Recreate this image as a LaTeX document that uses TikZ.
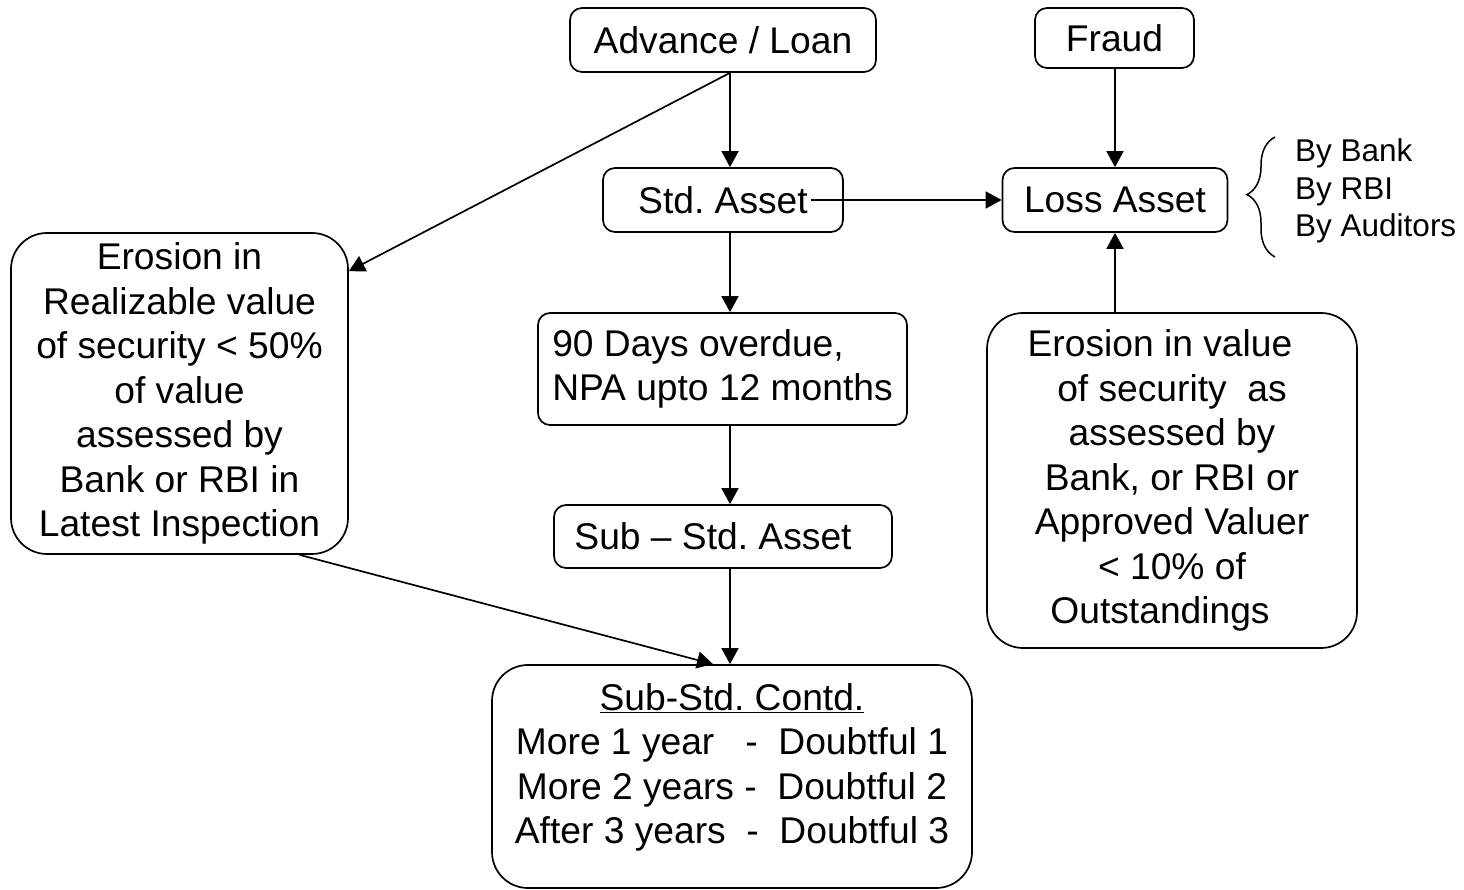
\documentclass[tikz,border=0pt]{standalone}
\usepackage{fontspec}
\setmainfont{Liberation Sans}
\usepackage{tikz}
\usetikzlibrary{shapes,arrows.meta,decorations.pathreplacing}
\frenchspacing
\tikzstyle{block} = [draw, rectangle, rounded corners=12pt, line width=1.7pt,
    align=center, inner sep=0pt]
\tikzstyle{bigblock} = [block, rounded corners=36pt]
\tikzstyle{line} = [draw, line width=1.7pt, -{Triangle[length=16pt,width=17pt]}]

\begin{document}
\begin{tikzpicture}[x=1pt, y=1pt, node distance = 160pt, font=\fontsize{37.2}{44.5}\selectfont]
    \useasboundingbox (0,0) rectangle (1464,889);
    \coordinate (col) at (730,0);
    \node [block, minimum width=306pt, minimum height=64pt] (advance) at (723,849) {Advance / Loan};
    \node [block, minimum width=240pt, minimum height=64pt, below of=advance] (std) {Std. Asset};
    \node [block, minimum width=159pt, minimum height=60pt] (fraud) at (1114.5,851) {Fraud};
    \node [block, minimum width=225pt, minimum height=64pt, right of=std, node distance = 392pt] (loss) {Loss Asset};
    \node [block, minimum width=369pt, minimum height=112pt, align=left] (days) at (722.5,520) {90 Days overdue,\\ NPA upto 12 months};
    \node [block, minimum width=338pt, minimum height=63pt] (substd) at (723,352.5) {Sub -- Std. Asset\hspace*{20pt}};
    \node [bigblock, minimum width=480pt, minimum height=223pt] (contd) at (732,112.5) {\underline{Sub-Std. Contd.}\\ More 1 year\ \ \ -\ \ Doubtful 1\\ More 2 years -\ \ Doubtful 2\\ After 3 years\ \ -\ \ Doubtful 3\\[-32pt]\strut};
    \node [bigblock, minimum width=337pt, minimum height=321pt] (erosionL) at (179.5,495.5) {Erosion in\\ Realizable value\\ of security < 50\%\\ of value\\ assessed by\\ Bank or RBI in\\ Latest Inspection};
    \node [bigblock, minimum width=370pt, minimum height=335pt] (erosionR) at (1172,408.5) {Erosion in value\hspace*{24pt}\\ of security\ \ as\hspace*{24pt}\\ assessed by\hspace*{24pt}\\ Bank, or RBI or\hspace*{24pt}\\ Approved Valuer\hspace*{24pt}\\ < 10\% of\hspace*{24pt}\\ Outstandings\hspace*{24pt}};
    \node [anchor=west, align=left, inner sep=0pt, font=\fontsize{31.5}{37.5}\selectfont] (byList) at (1295,698) {By Bank\\ By RBI\\ By Auditors};
    \coordinate (braceBot) at (1275,632);
    \coordinate (braceTop) at (1275,752);
    \draw [line width=1.5pt, decorate, decoration={brace, amplitude=28pt, aspect=0.52}] (braceBot) -- (braceTop);
    \path [line] (advance.south -| col) -- (std.north -| col);
    \path [line] (advance.south -| col) -- ([yshift=-39pt]erosionL.north east);
    \path [line] ([xshift=-33pt]std.east) -- (loss.west);
    \path [line] (std.south -| col) -- (days.north -| col);
    \path [line] (days.south -| col) -- (substd.north -| col);
    \path [line] (substd.south -| col) -- (contd.north -| col);
    \path [line] ([xshift=120pt]erosionL.south) -- ([xshift=-19pt]contd.north);
    \path [line] (fraud.south -| loss) -- (loss.north);
    \path [line] (erosionR.north -| loss) -- (loss.south);
\end{tikzpicture}
\end{document}
